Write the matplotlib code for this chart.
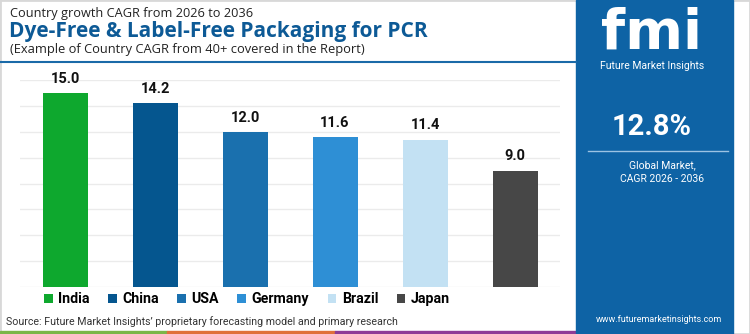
import matplotlib
matplotlib.use("Agg")
import matplotlib.pyplot as plt
from matplotlib.patches import Rectangle, Patch

countries = ["India", "China", "USA", "Germany", "Brazil", "Japan"]
cagr = [15.0, 14.2, 12.0, 11.6, 11.4, 9.0]
colors = ["#0ea82e", "#05568f", "#1a70ae", "#2e8fd5", "#c3e1f3", "#474747"]
global_cagr = "12.8%"

W, H = 750, 334
fig = plt.figure(figsize=(7.5, 3.34), dpi=100)
FONT = "Roboto"
TFONT = "Open Sans"

def fx(x): return x / W
def fy(y): return 1 - y / H

# border
fig.patches.append(Rectangle((0, 0), 1, 1, transform=fig.transFigure, fill=False,
                             edgecolor="#d8d8d8", linewidth=2))

# titles
fig.text(fx(10), fy(14), "Country growth CAGR from 2026 to 2036", fontsize=9.2,
         color="#222222", family=TFONT, va="center", ha="left")
fig.text(fx(9), fy(32), "Dye-Free & Label-Free Packaging for PCR", fontsize=15,
         color="#0d5a96", family=TFONT, fontweight="bold", va="center", ha="left")
fig.text(fx(10), fy(49), "(Example of Country CAGR from 40+ covered in the Report)", fontsize=9.3,
         color="#222222", family=TFONT, va="center", ha="left")
fig.add_artist(plt.Line2D([fx(0), fx(576)], [fy(62), fy(62)], transform=fig.transFigure,
                          color="#1a6aa8", linewidth=1.5))

# chart
ax = fig.add_axes([fx(20), fy(287), fx(560) - fx(20), fy(80) - fy(287)])
x = list(range(len(countries)))
ax.bar(x, cagr, width=0.5, color=colors, label=countries, zorder=3)
ax.set_xlim(-0.5, len(countries) - 0.5)
ax.set_ylim(0, 16)
ax.set_yticks(range(0, 17, 2))
ax.yaxis.grid(True, color="#ebebeb", linewidth=1, zorder=0)
ax.tick_params(left=False, bottom=False, labelleft=False, labelbottom=False)
for s in ax.spines.values():
    s.set_visible(False)
for xi, v in zip(x, cagr):
    ax.text(xi, v + 0.55, f"{v:.1f}", ha="center", va="bottom", fontsize=10.5,
            fontweight="bold", family=FONT, color="#111111")

handles = [Patch(facecolor=c, edgecolor="none") for c in colors]
fig.legend(handles, countries, loc="center", bbox_to_anchor=(fx(247), fy(299)),
           ncol=6, frameon=False, handlelength=0.6, handleheight=0.6,
           handletextpad=0.4, columnspacing=1.3,
           prop={"family": FONT, "weight": "bold", "size": 10.2})

fig.text(fx(6), fy(322), "Source: Future Market Insights\u2019 proprietary forecasting model and primary research",
         fontsize=7.65, color="#333333", family=FONT, va="center", ha="left")

# bottom strips
for x0, x1, c in [(0, 167, "#7ab648"), (167, 335, "#e0703a"), (335, 576, "#8e3b96")]:
    fig.patches.append(Rectangle((fx(x0), 0), fx(x1) - fx(x0), 3 / H,
                                 transform=fig.transFigure, color=c))

# right panel
fig.patches.append(Rectangle((fx(576), 0), fx(733) - fx(576), 1, transform=fig.transFigure,
                             color="#0e63a5"))
fig.text(fx(652), fy(34), "fmi", fontsize=40, color="white", fontweight="bold",
         family="DejaVu Sans", ha="center", va="center")
fig.text(fx(652), fy(66), "Future Market Insights", fontsize=7.5, color="white",
         family=FONT, ha="center", va="center")
fig.text(fx(652), fy(127), global_cagr, fontsize=21, color="white", fontweight="bold",
         family=FONT, ha="center", va="center")
fig.add_artist(plt.Line2D([fx(588), fx(728)], [fy(151), fy(151)], transform=fig.transFigure,
                          color="#9cc3e3", linewidth=1))
fig.text(fx(662), fy(165), "Global Market,", fontsize=7.5, color="white",
         family=FONT, ha="center", va="center")
fig.text(fx(662), fy(179), "CAGR 2026 - 2036", fontsize=7.5, color="white",
         family=FONT, ha="center", va="center")
fig.text(fx(659), fy(319), "www.futuremarketinsights.com", fontsize=6.5, color="white",
         family=FONT, ha="center", va="center")

fig.savefig("out.png", dpi=100)
